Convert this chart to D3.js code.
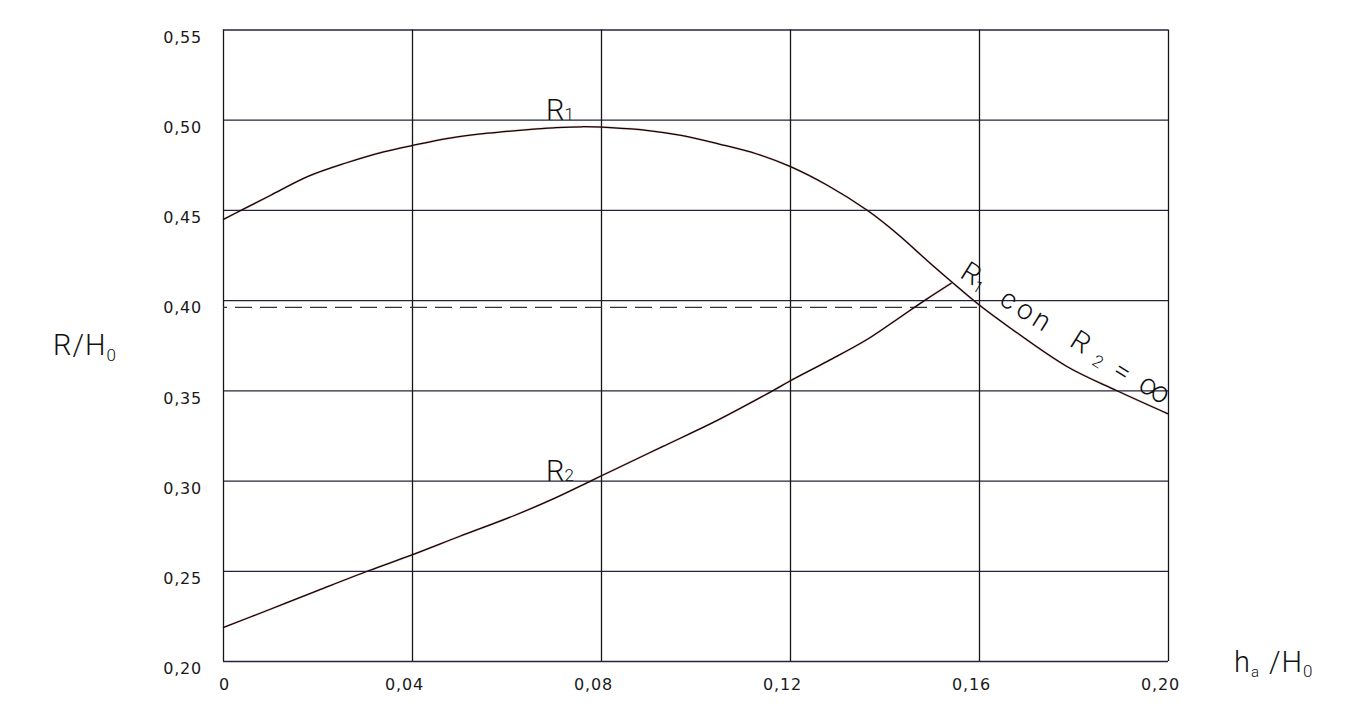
<!DOCTYPE html>
<html><head><meta charset="utf-8">
<script src="https://cdn.jsdelivr.net/npm/d3@7"></script>
<style>body{margin:0;background:#fff}</style>
</head><body><svg id="c" width="1359" height="723"></svg>
<script>
// ---- data ----
const xTicks = [0, 0.04, 0.08, 0.12, 0.16, 0.20];
const xTickLabels = ["0", "0,04", "0,08", "0,12", "0,16", "0,20"];
const yTicks = [0.20, 0.25, 0.30, 0.35, 0.40, 0.45, 0.50, 0.55];
const yTickLabels = ["0,20", "0,25", "0,30", "0,35", "0,40", "0,45", "0,50", "0,55"];

const r1X = [0, 0.004, 0.010, 0.018, 0.026, 0.034, 0.040, 0.048, 0.056, 0.064, 0.070, 0.076, 0.082, 0.090, 0.097, 0.105, 0.113, 0.120, 0.128, 0.1365, 0.1425, 0.1496, 0.1545, 0.160, 0.1666, 0.1785, 0.1891, 0.200];
const r1Y = [0.4446, 0.4500, 0.4580, 0.4686, 0.4760, 0.4822, 0.4857, 0.4898, 0.4925, 0.4944, 0.4955, 0.4961, 0.4956, 0.4940, 0.4913, 0.4865, 0.4810, 0.4741, 0.4635, 0.4495, 0.4372, 0.4206, 0.4095, 0.3974, 0.3846, 0.3634, 0.3499, 0.3370];

const r2X = [0, 0.010, 0.020, 0.0308, 0.040, 0.050, 0.0618, 0.070, 0.078, 0.083, 0.093, 0.1045, 0.1165, 0.120, 0.128, 0.1362, 0.1430, 0.1486, 0.1542];
const r2Y = [0.2185, 0.2287, 0.2390, 0.2500, 0.2588, 0.2690, 0.2808, 0.2900, 0.3000, 0.3063, 0.3188, 0.3332, 0.3500, 0.3552, 0.3662, 0.3780, 0.3900, 0.4000, 0.4095];

const refLineY = 0.396;
const refLineX = [0, 0.16];

// ---- layout ----
const svg = d3.select("#c");
const L = 223, R = 1168, T = 29.5, B = 661;
const x = d3.scaleLinear().domain([0, 0.20]).range([L, R]);
const y = d3.scaleLinear().domain([0.20, 0.55]).range([B, T]);

const tickFont = "'DejaVu Sans', sans-serif";
const bigFont = "Roboto, 'Liberation Sans', sans-serif";

// y axis with horizontal gridlines
const gy = svg.append("g").attr("transform", `translate(${L},0)`)
  .call(d3.axisLeft(y).tickValues(yTicks).tickSize(-(R - L)).tickPadding(21)
    .tickFormat((d, i) => yTickLabels[i]));
gy.select(".domain").remove();
gy.selectAll(".tick line").attr("stroke", "#24243c").attr("stroke-width", 1.3);
gy.selectAll(".tick text").attr("font-family", tickFont).attr("font-size", 16)
  .attr("letter-spacing", 0.8).attr("fill", "#1a1a1a").attr("dy", "0.36em")
  .attr("y", 7).attr("x", -21);

// x axis with vertical gridlines
const gx = svg.append("g").attr("transform", `translate(0,${B})`)
  .call(d3.axisBottom(x).tickValues(xTicks).tickSize(-(B - T))
    .tickFormat((d, i) => xTickLabels[i]));
gx.select(".domain").remove();
gx.selectAll(".tick line").attr("stroke", "#161616").attr("stroke-width", 1.3);
gx.selectAll(".tick text").attr("font-family", tickFont).attr("font-size", 16)
  .attr("letter-spacing", 0.8).attr("fill", "#1a1a1a").attr("dy", "0.36em")
  .attr("y", 23).attr("x", d => d === 0 ? 1 : -8);

// dashed reference line
svg.append("line")
  .attr("x1", x(refLineX[0])).attr("x2", x(refLineX[1]))
  .attr("y1", y(refLineY)).attr("y2", y(refLineY))
  .attr("stroke", "#333").attr("stroke-width", 1.2)
  .attr("stroke-dasharray", "17,8").attr("stroke-dashoffset", -12);

// curves
const line = d3.line().x(d => x(d[0])).y(d => y(d[1])).curve(d3.curveCatmullRom.alpha(0.5));
const r1 = r1X.map((v, i) => [v, r1Y[i]]);
const r2 = r2X.map((v, i) => [v, r2Y[i]]);
[r1, r2].forEach(data => {
  svg.append("path").datum(data).attr("d", line).attr("fill", "none")
    .attr("stroke", "#c84848").attr("stroke-opacity", 0.35).attr("stroke-width", 2.1);
  svg.append("path").datum(data).attr("d", line).attr("fill", "none")
    .attr("stroke", "#0e0606").attr("stroke-width", 1.25);
});

// curve labels
function subLabel(xp, yp, main, sub) {
  const t = svg.append("text").attr("x", xp).attr("y", yp)
    .attr("font-family", bigFont).attr("font-weight", 300).attr("fill", "#111");
  t.append("tspan").attr("font-size", 29).text(main);
  t.append("tspan").attr("font-size", 17).text(sub);
}
subLabel(546, 120, "R", "1");
subLabel(546, 481, "R", "2");

// axis titles
const yt = svg.append("text").attr("x", 53).attr("y", 355)
  .attr("font-family", bigFont).attr("font-weight", 300).attr("fill", "#111");
yt.append("tspan").attr("font-size", 29).attr("letter-spacing", 1).text("R/H");
yt.append("tspan").attr("font-size", 17).attr("dy", 6).text("0");

const xt = svg.append("text").attr("y", 672)
  .attr("font-family", bigFont).attr("font-weight", 300).attr("fill", "#111");
xt.append("tspan").attr("x", 1234).attr("font-size", 29).text("h");
xt.append("tspan").attr("x", 1251).attr("dy", 5).attr("font-size", 15).text("a");
xt.append("tspan").attr("x", 1269).attr("dy", -5).attr("font-size", 29).attr("letter-spacing", 1).text("/H");
xt.append("tspan").attr("dy", 5).attr("font-size", 17).text("0");

// rotated annotation "R1 con R2=∞"
const glyphs = [
  {t: "R", a: 9.8, b: -2, s: 28},
  {t: "1", a: 22.4, b: 2, s: 16},
  {t: "c", a: 55.5, b: 0, s: 28},
  {t: "o", a: 75.4, b: 0, s: 28},
  {t: "n", a: 94.3, b: 0, s: 28},
  {t: "R", a: 138.8, b: -2, s: 28},
  {t: "2", a: 163.7, b: 2, s: 17},
  {t: "=", a: 189.7, b: 1, s: 28},
  {t: "∞", a: 226.7, b: -1, s: 30}
];
const ga = svg.append("g").attr("transform", "translate(957,278) rotate(32)");
ga.selectAll("text").data(glyphs).join("text")
  .attr("x", d => d.a).attr("y", d => d.b).attr("text-anchor", "middle")
  .attr("font-family", bigFont).attr("font-weight", 300).attr("font-size", d => d.s)
  .attr("fill", "#111").text(d => d.t);
</script>
</body></html>
